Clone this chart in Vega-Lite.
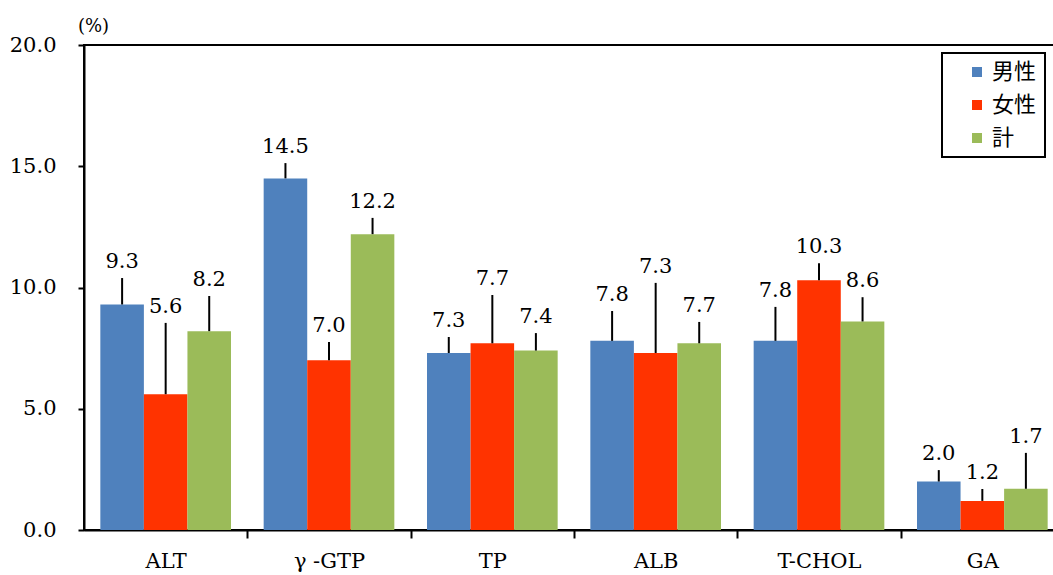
{
  "$schema": "https://vega.github.io/schema/vega-lite/v6.json",
  "width": 980,
  "height": 485,
  "autosize": {"type": "none"},
  "padding": {"left": 84, "top": 45, "right": 0, "bottom": 45},
  "background": "white",
  "config": {
    "view": {"stroke": "black", "strokeWidth": 2},
    "font": "DejaVu Serif"
  },
  "data": {
    "values": [
      {"item": "ALT", "sex": "男性", "value": 9.3, "labelY": 10.39},
      {"item": "ALT", "sex": "女性", "value": 5.6, "labelY": 8.54},
      {"item": "ALT", "sex": "計", "value": 8.2, "labelY": 9.65},
      {"item": "γ-GTP", "sex": "男性", "value": 14.5, "labelY": 15.13},
      {"item": "γ-GTP", "sex": "女性", "value": 7.0, "labelY": 7.75},
      {"item": "γ-GTP", "sex": "計", "value": 12.2, "labelY": 12.87},
      {"item": "TP", "sex": "男性", "value": 7.3, "labelY": 7.96},
      {"item": "TP", "sex": "女性", "value": 7.7, "labelY": 9.69},
      {"item": "TP", "sex": "計", "value": 7.4, "labelY": 8.12},
      {"item": "ALB", "sex": "男性", "value": 7.8, "labelY": 9.03},
      {"item": "ALB", "sex": "女性", "value": 7.3, "labelY": 10.19},
      {"item": "ALB", "sex": "計", "value": 7.7, "labelY": 8.58},
      {"item": "T-CHOL", "sex": "男性", "value": 7.8, "labelY": 9.2},
      {"item": "T-CHOL", "sex": "女性", "value": 10.3, "labelY": 11.0},
      {"item": "T-CHOL", "sex": "計", "value": 8.6, "labelY": 9.6},
      {"item": "GA", "sex": "男性", "value": 2.0, "labelY": 2.47},
      {"item": "GA", "sex": "女性", "value": 1.2, "labelY": 1.69},
      {"item": "GA", "sex": "計", "value": 1.7, "labelY": 3.18}
    ]
  },
  "encoding": {
    "x": {
      "field": "item",
      "type": "nominal",
      "sort": ["ALT", "γ-GTP", "TP", "ALB", "T-CHOL", "GA"],
      "scale": {"paddingInner": 0.2, "paddingOuter": 0.1},
      "axis": {
        "title": null,
        "labelAngle": 0,
        "labelFont": "DejaVu Serif",
        "labelFontSize": 21,
        "labelColor": "black",
        "labelPadding": 12,
        "labelOffset": -16.33,
        "bandPosition": 1,
        "tickExtra": false,
        "tickOffset": 16.33,
        "tickSize": 8,
        "tickWidth": 2,
        "tickColor": "black",
        "domainColor": "black",
        "domainWidth": 2,
        "labelExpr": "datum.value == 'γ-GTP' ? 'γ -GTP' : datum.label"
      }
    },
    "xOffset": {"field": "sex", "type": "nominal", "sort": ["男性", "女性", "計"]}
  },
  "layer": [
    {
      "mark": {"type": "bar"},
      "encoding": {
        "y": {
          "field": "value",
          "type": "quantitative",
          "scale": {"domain": [0, 20], "nice": false},
          "axis": {
            "values": [0, 5, 10, 15, 20],
            "format": ".1f",
            "grid": false,
            "title": "(%)",
            "titleAngle": 0,
            "titleX": 9,
            "titleY": -19,
            "titleAlign": "center",
            "titleBaseline": "middle",
            "titleFont": "DejaVu Serif",
            "titleFontSize": 18,
            "titleFontWeight": "normal",
            "titleColor": "black",
            "labelFont": "DejaVu Serif",
            "labelFontSize": 21,
            "labelColor": "black",
            "labelPadding": 22,
            "tickSize": 6,
            "tickWidth": 2,
            "tickColor": "black",
            "domainColor": "black",
            "domainWidth": 2
          }
        },
        "color": {
          "field": "sex",
          "type": "nominal",
          "sort": ["男性", "女性", "計"],
          "scale": {"domain": ["男性", "女性", "計"], "range": ["#4F81BD", "#FF3300", "#9BBB59"]},
          "legend": {
            "title": null,
            "orient": "none",
            "legendX": 858,
            "legendY": 8,
            "padding": 8,
            "strokeColor": "black",
            "fillColor": "white",
            "symbolType": "square",
            "symbolSize": 100,
            "symbolStrokeWidth": 0,
            "symbolOffset": 16,
            "labelFont": "Noto Sans CJK JP",
            "labelFontSize": 22,
            "labelColor": "black",
            "rowPadding": 11,
            "labelExpr": "datum.label + '\u3000'",
            "encode": {"legend": {"update": {"strokeWidth": {"value": 2}}}}
          }
        }
      }
    },
    {
      "mark": {"type": "rule", "color": "black", "strokeWidth": 2},
      "encoding": {
        "y": {"field": "value", "type": "quantitative"},
        "y2": {"field": "labelY"}
      }
    },
    {
      "mark": {"type": "text", "baseline": "bottom", "dy": -6, "fontSize": 21, "font": "DejaVu Serif", "color": "black"},
      "encoding": {
        "y": {"field": "labelY", "type": "quantitative"},
        "text": {"field": "value", "type": "quantitative", "format": ".1f"}
      }
    }
  ]
}
